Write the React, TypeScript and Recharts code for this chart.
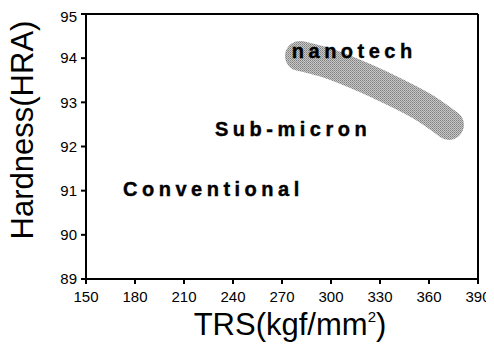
import React from 'react';
import { ComposedChart, Line, Scatter, XAxis, YAxis, ReferenceLine } from 'recharts';

const xTicks = [150, 180, 210, 240, 270, 300, 330, 360, 390];
const yTicks = [89, 90, 91, 92, 93, 94, 95];

// gray "nanotech" band (centre line)
const bandX = [281.0, 299.4, 320.8, 339.2, 357.5, 372.2];
const bandY = [94.05, 93.87, 93.55, 93.23, 92.87, 92.49];

// region annotations
const labelNames = ['nanotech', 'Sub-micron', 'Conventional'];
const labelX = [276, 229, 172.7];
const labelY = [94.0, 92.24, 90.88];

const bandData = bandX.map((x, i) => ({ x, y: bandY[i] }));
const labelData = labelNames.map((name, i) => ({ x: labelX[i], y: labelY[i], name }));

const FONT = 'Liberation Sans, Arial, Helvetica, sans-serif';

const AnnotationShape = (p: any) => (
  <text
    x={p.cx}
    y={p.cy}
    fontFamily={FONT}
    fontWeight="bold"
    fontSize={20}
    letterSpacing={4.5}
    fill="#000"
    stroke="#000"
    strokeWidth={0.4}
    textAnchor="start"
  >
    {p.payload.name}
  </text>
);

const YLabel = (props: any) => {
  const vb = props.viewBox;
  const x = vb.x + 25;
  const y = vb.y + vb.height / 2 - 16.5;
  return (
    <g>
      <defs>
        <pattern id="halftone" width="2" height="2" patternUnits="userSpaceOnUse">
          <rect x="0" y="0" width="2" height="2" fill="#c8c8c8" />
          <rect x="0" y="0" width="1" height="1" fill="#7e7e7e" />
          <rect x="1" y="1" width="1" height="1" fill="#969696" />
        </pattern>
      </defs>
      <g transform={`translate(${x}, ${y}) rotate(-90)`}>
        <text
          x={0}
          y={0}
          textAnchor="middle"
          fontFamily={FONT}
          fontSize={31}
          fill="#000"
        >
          Hardness(HRA)
        </text>
      </g>
    </g>
  );
};

const XLabel = (props: any) => {
  const vb = props.viewBox;
  const x = vb.x + vb.width / 2 + 8;
  const y = vb.y + 56;
  return (
    <text x={x} y={y} textAnchor="middle" fontFamily={FONT} fontSize={31} fill="#000">
      <tspan>TRS(kgf/mm</tspan>
      <tspan fontSize={15} dy={-13}>2</tspan>
      <tspan dy={13}>)</tspan>
    </text>
  );
};

export default function App() {
  return (
    <div style={{ width: 486, height: 337 }}>
      <ComposedChart
        width={486}
        height={337}
        margin={{ top: 6, right: 16, bottom: 0, left: 0 }}
      >
        <XAxis
          type="number"
          dataKey="x"
          domain={[150, 390]}
          ticks={xTicks}
          allowDataOverflow
          height={66}
          tickSize={5}
          tickMargin={7}
          tick={{ fill: '#000', fontSize: 15, fontFamily: FONT }}
          tickLine={{ stroke: '#000', strokeWidth: 2 }}
          axisLine={{ stroke: '#000', strokeWidth: 2 }}
          label={XLabel}
        />
        <YAxis
          type="number"
          dataKey="y"
          domain={[89, 95]}
          ticks={yTicks}
          allowDataOverflow
          width={78}
          tickSize={5}
          tickMargin={4}
          tick={{ fill: '#000', fontSize: 15, fontFamily: FONT }}
          tickLine={{ stroke: '#000', strokeWidth: 2 }}
          axisLine={{ stroke: '#000', strokeWidth: 2 }}
          label={YLabel}
        />
        <ReferenceLine y={95} stroke="#000" strokeWidth={2} />
        <ReferenceLine x={390} stroke="#000" strokeWidth={2} />
        <Line
          data={bandData}
          dataKey="y"
          type="monotone"
          stroke="url(#halftone)"
          strokeWidth={30}
          strokeLinecap="round"
          dot={false}
          activeDot={false}
          isAnimationActive={false}
        />
        <Scatter
          data={labelData}
          dataKey="y"
          shape={AnnotationShape}
          isAnimationActive={false}
        />
      </ComposedChart>
    </div>
  );
}
